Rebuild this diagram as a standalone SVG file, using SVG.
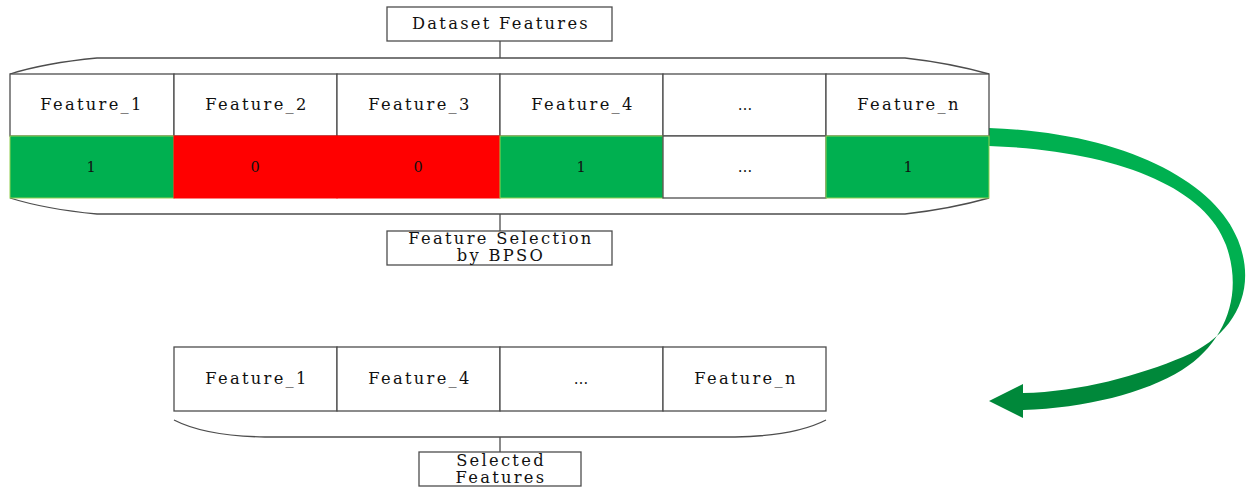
<svg xmlns="http://www.w3.org/2000/svg" width="1247" height="487" viewBox="0 0 1247 487">
  <style>
    .cell { stroke: #4d4d4d; stroke-width: 1.3; fill: #ffffff; }
    .on { fill: #00b050; stroke: #92d050; stroke-width: 1; }
    .off { fill: #ff0000; stroke: #ff0000; stroke-width: 1; }
    .lbl { font-family: "DejaVu Serif", "Liberation Serif", serif; font-size: 16.3px; letter-spacing: 2.3px; fill: #111; text-anchor: middle; }
    .num { font-family: "DejaVu Serif", "Liberation Serif", serif; font-size: 14.5px; fill: #111; text-anchor: middle; }
    .brace { fill: none; stroke: #4d4d4d; stroke-width: 1.3; }
  </style>
  <defs>
    <linearGradient id="arrowFill" gradientUnits="userSpaceOnUse" x1="0" y1="260" x2="0" y2="345">
      <stop offset="0" stop-color="#00b050"/>
      <stop offset="1" stop-color="#00883a"/>
    </linearGradient>
  </defs>
  <rect width="1247" height="487" fill="#ffffff"/>

  <!-- connectors: braces, stems and the curved arrow -->
  <g id="connectors">
    <path class="brace" d="M10,74 Q45,63 97,58 L905,58 Q950,63 989,74"/>
    <line class="brace" x1="500" y1="41" x2="500" y2="58"/>
    <path class="brace" d="M10,198 Q45,209 97,214 L905,214 Q950,209 989,198"/>
    <line class="brace" x1="500" y1="214" x2="500" y2="231"/>
    <path class="brace" d="M174,420 Q205,436 265,437 L735,437 Q795,436 826,420"/>
    <line class="brace" x1="500" y1="437" x2="500" y2="452"/>
    <path id="arrow" fill="url(#arrowFill)" d="M989,128 C1120,132 1215,180 1238,240 C1258,290 1235,335 1183,357 C1140,375 1080,392 1023,393 L1023,384 L989,401 L1023,418 L1023,410 C1085,408 1145,393 1182,370 C1225,343 1244,295 1226,245 C1205,185 1110,150 989,146 Z"/>
  </g>

  <g id="dataset-features">
    <rect class="cell" x="387" y="7" width="225" height="34"/>
    <text class="lbl" x="501" y="29">Dataset Features</text>
  </g>

  <g id="feature-table">
    <rect class="cell" x="10" y="74" width="164" height="62"/>
    <rect class="cell" x="174" y="74" width="163" height="62"/>
    <rect class="cell" x="337" y="74" width="163" height="62"/>
    <rect class="cell" x="500" y="74" width="163" height="62"/>
    <rect class="cell" x="663" y="74" width="163" height="62"/>
    <rect class="cell" x="826" y="74" width="163" height="62"/>
    <text class="lbl" x="92" y="110">Feature_1</text>
    <text class="lbl" x="257" y="110">Feature_2</text>
    <text class="lbl" x="420" y="110">Feature_3</text>
    <text class="lbl" x="583" y="110">Feature_4</text>
    <text class="num" x="745" y="110">…</text>
    <text class="lbl" x="909" y="110">Feature_n</text>

    <rect class="on" x="10" y="136" width="164" height="62"/>
    <rect class="off" x="174" y="136" width="163" height="62"/>
    <rect class="off" x="337" y="136" width="163" height="62"/>
    <rect class="on" x="500" y="136" width="163" height="62"/>
    <rect class="cell" x="663" y="136" width="163" height="62"/>
    <rect class="on" x="826" y="136" width="163" height="62"/>
    <text class="num" x="91" y="172">1</text>
    <text class="num" x="255" y="172">0</text>
    <text class="num" x="418" y="172">0</text>
    <text class="num" x="581" y="172">1</text>
    <text class="num" x="745" y="172">…</text>
    <text class="num" x="908" y="172">1</text>
  </g>

  <g id="feature-selection">
    <rect class="cell" x="387" y="231" width="225" height="34"/>
    <text class="lbl" x="501" y="244">Feature Selection</text>
    <text class="lbl" x="501" y="261">by BPSO</text>
  </g>

  <g id="selected-table">
    <rect class="cell" x="174" y="347" width="163" height="64"/>
    <rect class="cell" x="337" y="347" width="163" height="64"/>
    <rect class="cell" x="500" y="347" width="163" height="64"/>
    <rect class="cell" x="663" y="347" width="163" height="64"/>
    <text class="lbl" x="257" y="384">Feature_1</text>
    <text class="lbl" x="420" y="384">Feature_4</text>
    <text class="num" x="581" y="384">…</text>
    <text class="lbl" x="746" y="384">Feature_n</text>
  </g>

  <g id="selected-features">
    <rect class="cell" x="419" y="452" width="162" height="34"/>
    <text class="lbl" x="501" y="466">Selected</text>
    <text class="lbl" x="501" y="483">Features</text>
  </g>
</svg>
